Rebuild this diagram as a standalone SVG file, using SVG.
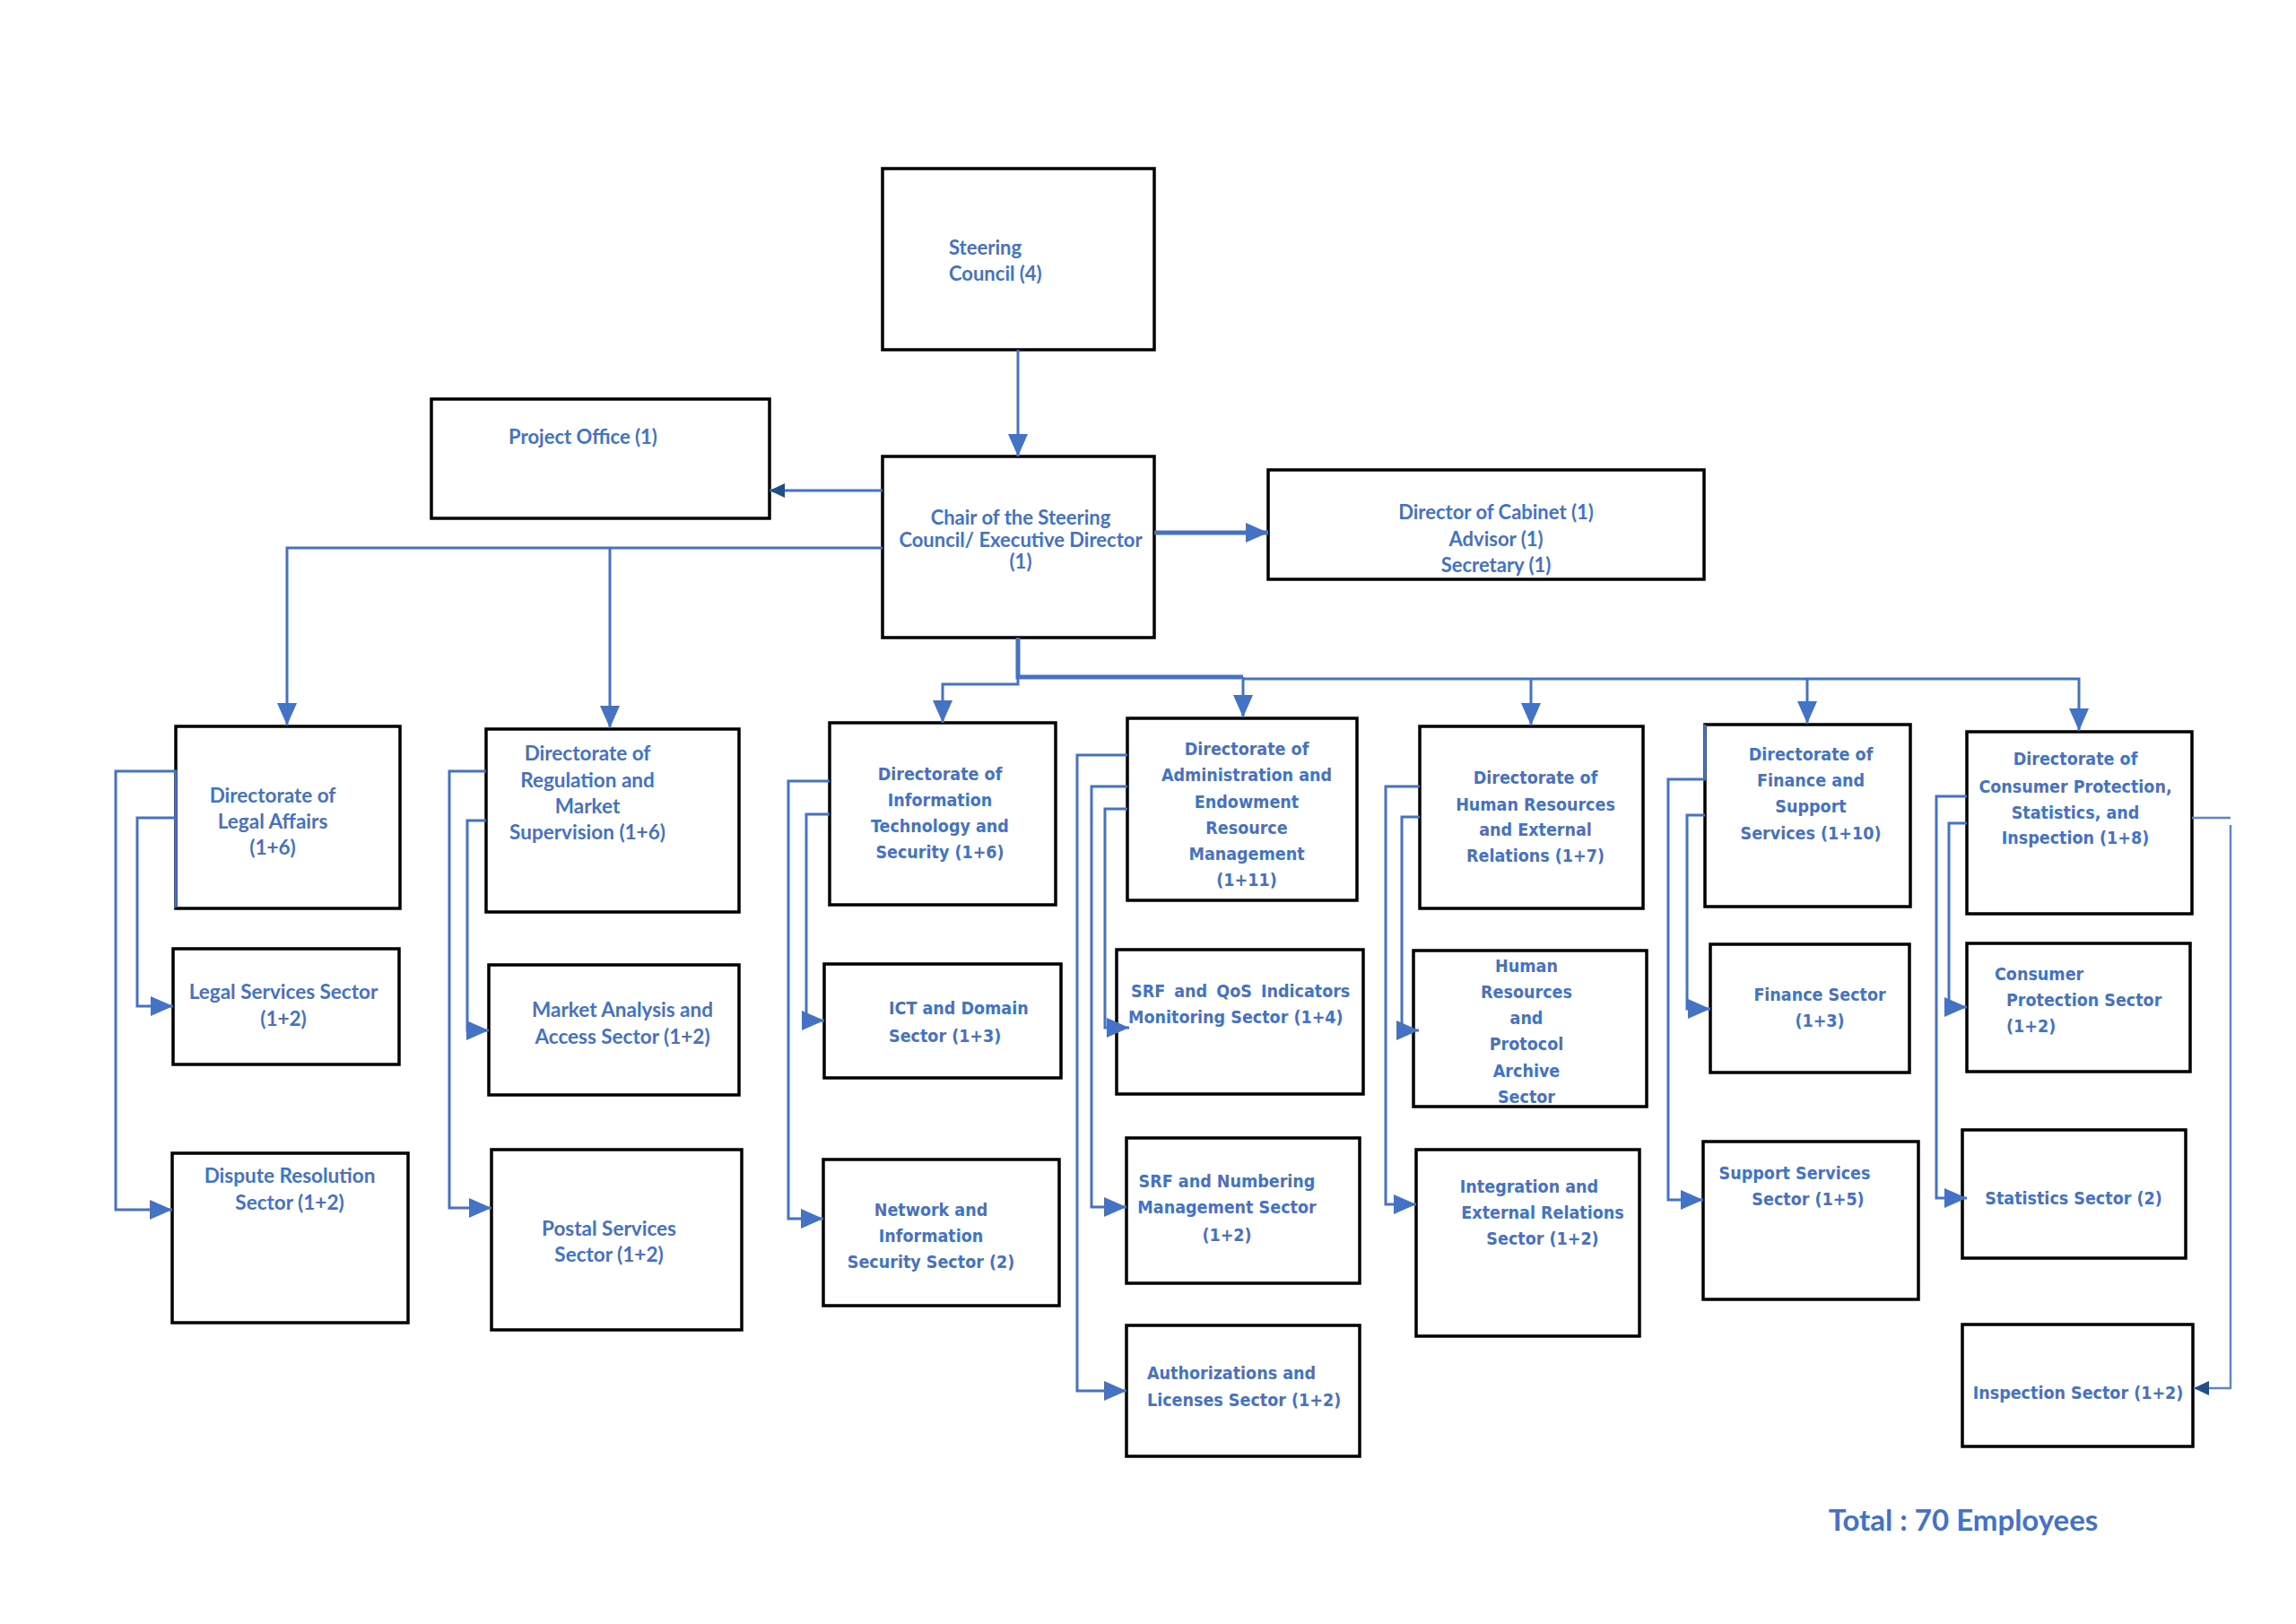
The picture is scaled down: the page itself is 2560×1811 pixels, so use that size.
<svg xmlns="http://www.w3.org/2000/svg" width="2560" height="1811" viewBox="0 0 2560 1811">
<defs>
<style>
.box{fill:#fff;stroke:#000;stroke-width:3.5}
.c{font-family:Lato,'Liberation Sans',sans-serif;font-weight:700;font-size:22.5px;fill:#4472C4;text-anchor:middle}
.t{font-size:22px}
.v{font-family:'DejaVu Sans Condensed','DejaVu Sans',Verdana,sans-serif;font-stretch:condensed;font-weight:700;font-size:19.5px;fill:#4472C4;text-anchor:middle}
.l{text-anchor:start}
.ln{fill:none;stroke:#4472C4;stroke-width:3}
.thick{stroke-width:5}
.thin{stroke:#5b86c8;stroke-width:2.5}
</style>
<marker id="ah" markerUnits="userSpaceOnUse" markerWidth="26" markerHeight="22" refX="25" refY="11" orient="auto"><path d="M0,0 L25,11 L0,22 z" fill="#4472C4"/></marker>
<marker id="ahn" markerUnits="userSpaceOnUse" markerWidth="18" markerHeight="16" refX="17" refY="8" orient="auto"><path d="M0,0 L17,8 L0,16 z" fill="#1F4E89"/></marker>
</defs>
<rect width="2560" height="1811" fill="#fff"/>

<g id="steering"><rect class="box" x="984" y="188" width="303" height="202"/><text class="c t l" x="1058" y="284">Steering</text><text class="c t l" x="1058" y="313">Council (4)</text></g>
<g id="chair"><rect class="box" x="984" y="509" width="303" height="202"/><text class="c t" x="1138" y="585">Chair of the Steering</text><text class="c t" x="1138" y="610">Council/ Executive Director</text><text class="c t" x="1138" y="634">(1)</text></g>
<g id="project-office"><rect class="box" x="481" y="445" width="377" height="133"/><text class="c t" x="650" y="495">Project Office (1)</text></g>
<g id="cabinet"><rect class="box" x="1414" y="524" width="486" height="122"/><text class="c t" x="1668" y="579">Director of Cabinet (1)</text><text class="c t" x="1668" y="609">Advisor (1)</text><text class="c t" x="1668" y="638">Secretary (1)</text></g>

<g id="legal"><rect class="box" x="196" y="810" width="250" height="203"/><text class="c" x="304" y="895">Directorate of</text><text class="c" x="304" y="924">Legal Affairs</text><text class="c" x="304" y="953">(1+6)</text></g>
<g id="legal-services"><rect class="box" x="193" y="1058" width="252" height="129"/><text class="c" x="316" y="1114">Legal Services Sector</text><text class="c" x="316" y="1144">(1+2)</text></g>
<g id="dispute"><rect class="box" x="192" y="1286" width="263" height="189"/><text class="c" x="323" y="1319">Dispute Resolution</text><text class="c" x="323" y="1349">Sector (1+2)</text></g>

<g id="regulation"><rect class="box" x="542" y="813" width="282" height="204"/><text class="c" x="655" y="848">Directorate of</text><text class="c" x="655" y="878">Regulation and</text><text class="c" x="655" y="907">Market</text><text class="c" x="655" y="936">Supervision (1+6)</text></g>
<g id="market"><rect class="box" x="545" y="1076" width="279" height="145"/><text class="c" x="694" y="1134">Market Analysis and</text><text class="c" x="694" y="1164">Access Sector (1+2)</text></g>
<g id="postal"><rect class="box" x="548" y="1282" width="279" height="201"/><text class="c" x="679" y="1378">Postal Services</text><text class="c" x="679" y="1407">Sector (1+2)</text></g>

<g id="it"><rect class="box" x="925" y="806" width="252" height="203"/><text class="v" x="1048" y="870">Directorate of</text><text class="v" x="1048" y="899">Information</text><text class="v" x="1048" y="928">Technology and</text><text class="v" x="1048" y="957">Security (1+6)</text></g>
<g id="ict"><rect class="box" x="919" y="1075" width="264" height="127"/><text class="v l" x="991" y="1131">ICT and Domain</text><text class="v l" x="991" y="1162">Sector (1+3)</text></g>
<g id="network"><rect class="box" x="918" y="1293" width="263" height="163"/><text class="v" x="1038" y="1356">Network and</text><text class="v" x="1038" y="1385">Information</text><text class="v" x="1038" y="1414">Security Sector (2)</text></g>

<g id="admin"><rect class="box" x="1257" y="801" width="256" height="203"/><text class="v" x="1390" y="842">Directorate of</text><text class="v" x="1390" y="871">Administration and</text><text class="v" x="1390" y="901">Endowment</text><text class="v" x="1390" y="930">Resource</text><text class="v" x="1390" y="959">Management</text><text class="v" x="1390" y="988">(1+11)</text></g>
<g id="srf-qos"><rect class="box" x="1245" y="1059" width="275" height="161"/><text class="v l" x="1261" y="1112" style="word-spacing:4px">SRF and QoS Indicators</text><text class="v l" x="1258" y="1141">Monitoring Sector (1+4)</text></g>
<g id="srf-numbering"><rect class="box" x="1256" y="1269" width="260" height="162"/><text class="v" x="1368" y="1324">SRF and Numbering</text><text class="v" x="1368" y="1353">Management Sector</text><text class="v" x="1368" y="1384">(1+2)</text></g>
<g id="authorizations"><rect class="box" x="1256" y="1478" width="260" height="146"/><text class="v l" x="1279" y="1538">Authorizations and</text><text class="v l" x="1279" y="1568">Licenses Sector (1+2)</text></g>

<g id="hr"><rect class="box" x="1583" y="810" width="249" height="203"/><text class="v" x="1712" y="874">Directorate of</text><text class="v" x="1712" y="904">Human Resources</text><text class="v" x="1712" y="932">and External</text><text class="v" x="1712" y="961">Relations (1+7)</text></g>
<g id="hr-protocol"><rect class="box" x="1576" y="1060" width="260" height="174"/><text class="v" x="1702" y="1084">Human</text><text class="v" x="1702" y="1113">Resources</text><text class="v" x="1702" y="1142">and</text><text class="v" x="1702" y="1171">Protocol</text><text class="v" x="1702" y="1201">Archive</text><text class="v" x="1702" y="1230">Sector</text></g>
<g id="integration"><rect class="box" x="1579" y="1282" width="249" height="208"/><text class="v" x="1705" y="1330">Integration and</text><text class="v" x="1720" y="1359">External Relations</text><text class="v" x="1720" y="1388">Sector (1+2)</text></g>

<g id="finance"><rect class="box" x="1901" y="808" width="229" height="203"/><text class="v" x="2019" y="848">Directorate of</text><text class="v" x="2019" y="877">Finance and</text><text class="v" x="2019" y="906">Support</text><text class="v" x="2019" y="936">Services (1+10)</text></g>
<g id="finance-sector"><rect class="box" x="1907" y="1053" width="222" height="143"/><text class="v" x="2029" y="1116">Finance Sector</text><text class="v" x="2029" y="1145">(1+3)</text></g>
<g id="support"><rect class="box" x="1899" y="1273" width="240" height="176"/><text class="v" x="2001" y="1315">Support Services</text><text class="v" x="2016" y="1344">Sector (1+5)</text></g>

<g id="consumer"><rect class="box" x="2193" y="816" width="251" height="203"/><text class="v" x="2314" y="853">Directorate of</text><text class="v" x="2314" y="884">Consumer Protection,</text><text class="v" x="2314" y="913">Statistics, and</text><text class="v" x="2314" y="941">Inspection (1+8)</text></g>
<g id="consumer-protection"><rect class="box" x="2193" y="1052" width="249" height="143"/><text class="v l" x="2224" y="1093">Consumer</text><text class="v l" x="2237" y="1122">Protection Sector</text><text class="v l" x="2237" y="1151">(1+2)</text></g>
<g id="statistics"><rect class="box" x="2188" y="1260" width="249" height="143"/><text class="v" x="2312" y="1343">Statistics Sector (2)</text></g>
<g id="inspection"><rect class="box" x="2188" y="1477" width="257" height="136"/><text class="v" x="2317" y="1560">Inspection Sector (1+2)</text></g>

<g id="total"><text class="c" style="font-size:33px" x="2189" y="1707">Total : 70 Employees</text></g>

<g id="connectors">
<path class="ln" d="M1135,390 V509" marker-end="url(#ah)"/>
<path class="ln" d="M984,547 H858" marker-end="url(#ahn)"/>
<path class="ln thick" d="M1287,594 H1414" marker-end="url(#ah)"/>
<path class="ln" d="M984,611 H320 V809" marker-end="url(#ah)"/>
<path class="ln" d="M680,611 V812" marker-end="url(#ah)"/>
<path class="ln" d="M1135,711 V763 H1051 V806" marker-end="url(#ah)"/>
<path class="ln thick" d="M1135,711 V755 H1386"/>
<path class="ln" d="M1386,755 V800" marker-end="url(#ah)"/>
<path class="ln" d="M1386,757 H2318 V815" marker-end="url(#ah)"/>
<path class="ln" d="M1707,757 V809" marker-end="url(#ah)"/>
<path class="ln" d="M2015,757 V807" marker-end="url(#ah)"/>

<path class="ln" d="M196,1012 V860 H129 V1349 H192" marker-end="url(#ah)"/>
<path class="ln" d="M196,912 H153 V1122 H193" marker-end="url(#ah)"/>
<path class="ln" d="M542,860 H501 V1347 H548" marker-end="url(#ah)"/>
<path class="ln" d="M542,915 H521 V1149 H545" marker-end="url(#ah)"/>

<path class="ln" d="M925,871 H879 V1359 H918" marker-end="url(#ah)"/>
<path class="ln" d="M925,908 H899 V1138 H919" marker-end="url(#ah)"/>

<path class="ln" d="M1257,842 H1201 V1551 H1256" marker-end="url(#ah)"/>
<path class="ln" d="M1257,877 H1217 V1346 H1256" marker-end="url(#ah)"/>
<path class="ln" d="M1257,902 H1232 V1146 H1259" marker-end="url(#ah)"/>

<path class="ln" d="M1583,877 H1545 V1343 H1579" marker-end="url(#ah)"/>
<path class="ln" d="M1583,911 H1563 V1149 H1582" marker-end="url(#ah)"/>

<path class="ln" d="M1901,808 V869 H1860 V1338 H1899" marker-end="url(#ah)"/>
<path class="ln" d="M1901,909 H1881 V1125 H1907" marker-end="url(#ah)"/>

<path class="ln" d="M2193,888 H2159 V1336 H2193" marker-end="url(#ah)"/>
<path class="ln" d="M2193,918 H2173 V1123 H2193" marker-end="url(#ah)"/>
<path class="ln thin" d="M2444,912 H2487"/>
<path class="ln thin" d="M2487,920 V1548 H2446" marker-end="url(#ahn)"/>
</g>
</svg>
